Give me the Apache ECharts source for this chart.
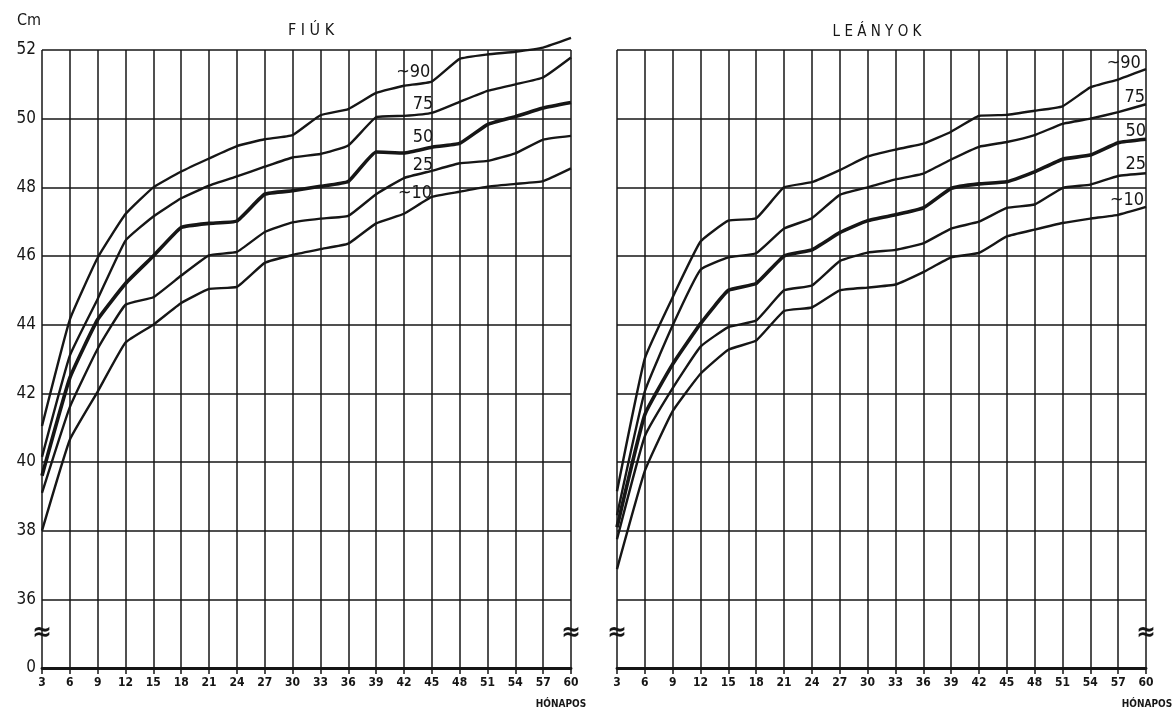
<!DOCTYPE html>
<html>
<head>
<meta charset="utf-8">
<script src="https://cdn.jsdelivr.net/npm/echarts@6/dist/echarts.min.js"></script>
<style>
html,body{margin:0;padding:0;background:#fff;}
#chart{width:1174px;height:712px;}
</style>
</head>
<body>
<div id="chart"></div>
<script>
// ---- data ----
const months = [3,6,9,12,15,18,21,24,27,30,33,36,39,42,45,48,51,54,57,60];
const yTicks = [34,36,38,40,42,44,46,48,50,52]; // 34 is shown as "0" (broken axis)
const percentileNames = ['~90','75','50','25','~10'];

// FIÚK (boys)
const boysP90 = [41.05,44.15,45.95,47.22,48.0,48.46,48.84,49.2,49.4,49.52,50.1,50.28,50.75,50.96,51.08,51.74,51.87,51.95,52.07,52.35];
const boysP75 = [40.15,43.1,44.75,46.45,47.15,47.68,48.05,48.32,48.6,48.87,48.97,49.22,50.04,50.08,50.17,50.49,50.81,51.0,51.2,51.78];
const boysP50 = [39.6,42.45,44.15,45.2,46.0,46.83,46.95,47.02,47.8,47.9,48.03,48.17,49.03,49.0,49.17,49.28,49.83,50.06,50.31,50.47];
const boysP25 = [39.1,41.6,43.3,44.58,44.8,45.43,46.02,46.12,46.7,46.98,47.09,47.17,47.8,48.27,48.48,48.7,48.77,48.99,49.39,49.5];
const boysP10 = [38.0,40.65,42.05,43.48,44.0,44.63,45.04,45.1,45.8,46.03,46.2,46.36,46.95,47.23,47.72,47.87,48.02,48.1,48.18,48.55];

// LEÁNYOK (girls)
const girlsP90 = [39.15,43.02,44.8,46.42,47.03,47.1,48.0,48.15,48.5,48.9,49.1,49.27,49.62,50.08,50.11,50.23,50.36,50.91,51.14,51.44];
const girlsP75 = [38.45,42.06,43.98,45.6,45.96,46.08,46.8,47.1,47.78,48.0,48.23,48.4,48.81,49.18,49.32,49.52,49.85,50.0,50.19,50.42];
const girlsP50 = [38.1,41.38,42.85,44.03,45.0,45.2,46.0,46.18,46.68,47.03,47.2,47.4,47.97,48.1,48.16,48.45,48.82,48.94,49.3,49.4];
const girlsP25 = [37.75,40.75,42.15,43.36,43.93,44.12,45.0,45.14,45.85,46.1,46.18,46.37,46.8,47.0,47.4,47.5,47.98,48.08,48.33,48.41];
const girlsP10 = [36.88,39.74,41.48,42.57,43.27,43.54,44.4,44.5,45.0,45.08,45.17,45.53,45.96,46.09,46.57,46.77,46.96,47.09,47.2,47.43];

// label anchor positions (in data units) for percentile names
const boysLabelMonth = [43.0,44.06,44.06,44.06,43.2];
const boysLabelValue = [51.36,50.43,49.47,48.65,47.83];
const girlsLabelMonth = [57.6,58.8,58.9,58.9,57.96];
const girlsLabelValue = [51.62,50.63,49.64,48.68,47.63];
const breakValue = 35;

// ---- chart ----
const FONT = '"DejaVu Sans Condensed","DejaVu Sans",sans-serif';
const INK = '#161616';
const chart = echarts.init(document.getElementById('chart'), null, {renderer:'canvas'});

function xAxis(gi){
  return {
    type:'value', gridIndex:gi, min:3, max:60, interval:3,
    axisLine:{show:true, lineStyle:{color:INK, width:2.8}},
    axisTick:{show:true, length:6, inside:false, lineStyle:{color:INK, width:1.5}},
    axisLabel:{show:true, color:INK, fontFamily:FONT, fontSize:12, fontWeight:'bold', margin:9},
    splitLine:{show:true, lineStyle:{color:INK, width:1.5}}
  };
}
function yAxis(gi, showLabels){
  return {
    type:'value', gridIndex:gi, min:34, max:52, interval:2,
    axisLine:{show:false}, axisTick:{show:false},
    axisLabel:{show:showLabels, color:INK, fontFamily:FONT, fontSize:17, margin:6,
      formatter:v => (v===yTicks[0] ? '0' : String(v))},
    splitLine:{show:true, lineStyle:{color:INK, width:1.5}}
  };
}
function lineSeries(gi, arr, w, labelMonth, labelValue, name, extraMarks){
  const marks = [{coord:[labelMonth, labelValue], value:name}];
  if (extraMarks) extraMarks.forEach(m => marks.push(m));
  return {
    type:'line', xAxisIndex:gi, yAxisIndex:gi, name:name,
    data: months.map((m,i)=>[m, arr[i]]),
    symbol:'none', smooth:0.12, silent:true, clip:false,
    lineStyle:{color:INK, width:w, join:'round'},
    z:5,
    markPoint:{
      symbol:'circle', symbolSize:0, silent:true, animation:false,
      label:{show:true, position:'inside', color:INK, fontFamily:FONT, fontSize:18,
        formatter:p => p.data.value,
        rich:{}},
      data: marks
    }
  };
}
const breakMarks = [
  {coord:[months[0], breakValue], value:'≈', label:{fontSize:26, fontWeight:'bold'}},
  {coord:[months[months.length-1], breakValue], value:'≈', label:{fontSize:26, fontWeight:'bold'}}
];
const boysArrs = [boysP90,boysP75,boysP50,boysP25,boysP10];
const girlsArrs = [girlsP90,girlsP75,girlsP50,girlsP25,girlsP10];
const widths = [2.4,2.4,3.6,2.4,2.4];
const series = [];
boysArrs.forEach((a,i)=>series.push(lineSeries(0,a,widths[i],boysLabelMonth[i],boysLabelValue[i],percentileNames[i], i===4?breakMarks:null)));
girlsArrs.forEach((a,i)=>series.push(lineSeries(1,a,widths[i],girlsLabelMonth[i],girlsLabelValue[i],percentileNames[i], i===4?breakMarks:null)));

const option = {
  backgroundColor:'#ffffff',
  animation:false,
  title:[
    {text:'Cm', left:12, top:8, textStyle:{color:INK, fontFamily:FONT, fontSize:16, fontWeight:'normal'}},
    {text:'F I Ú K', left:306, top:18, textAlign:'center', textStyle:{color:INK, fontFamily:FONT, fontSize:16, fontWeight:'normal'}},
    {text:'L E Á N Y O K', left:872, top:20, textAlign:'center', textStyle:{color:INK, fontFamily:FONT, fontSize:15, fontWeight:'normal'}},
    {text:'HÓNAPOS', left:556, top:694, textAlign:'center', textStyle:{color:INK, fontFamily:FONT, fontSize:10, fontWeight:'bold'}},
    {text:'HÓNAPOS', left:1142, top:694, textAlign:'center', textStyle:{color:INK, fontFamily:FONT, fontSize:10, fontWeight:'bold'}}
  ],
  grid:[
    {left:42, right:603, top:50, bottom:44},
    {left:617, right:28, top:50, bottom:44}
  ],
  xAxis:[xAxis(0), xAxis(1)],
  yAxis:[yAxis(0,true), yAxis(1,false)],
  series: series
};
chart.setOption(option);
</script>
</body>
</html>
